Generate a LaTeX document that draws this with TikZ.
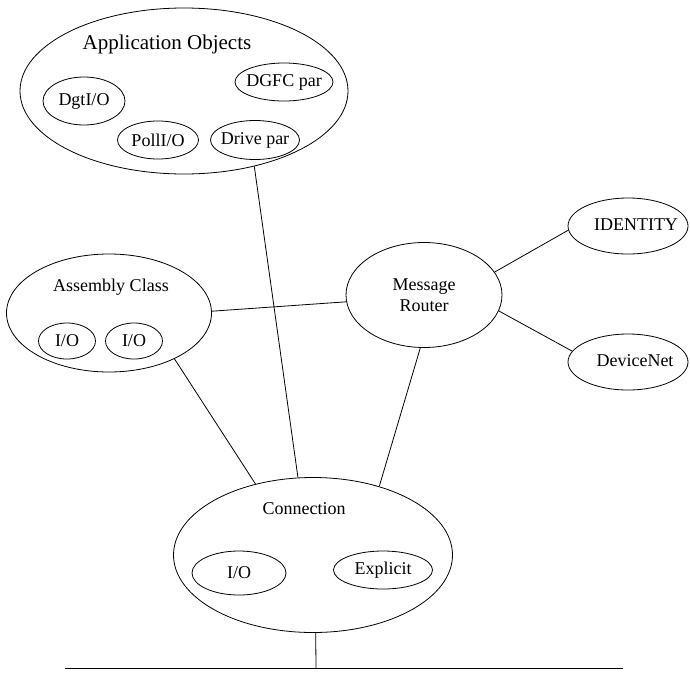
\documentclass[tikz,border=0pt]{standalone}
\usepackage{fontspec}
\setmainfont{Liberation Serif}
\usetikzlibrary{shapes.geometric}
\tikzset{
  ell/.style n args={3}{ellipse, draw, line width=0.8pt, minimum width=#1, minimum height=#2, inner sep=0pt, label={[font=\fontsize{18}{21}\selectfont, align=center]center:#3}},
  cont/.style 2 args={ellipse, draw, line width=0.8pt, minimum width=#1, minimum height=#2, inner sep=0pt},
  title/.style={font=\fontsize{18}{21}\selectfont, inner sep=0pt},
  link/.style={line width=0.8pt}
}
\begin{document}
\begin{tikzpicture}[x=1pt, y=-1pt]
\useasboundingbox (0,0) rectangle (690,672);
% Application Objects
\node[cont={328pt}{166pt}] (app) at (184,91) {};
\node[title, font=\fontsize{21}{24}\selectfont] (apptitle) at (167,44) {Application Objects};
\node[ell={82pt}{48pt}{DgtI/O}] (dgt) at (84,101) {};
\node[ell={81pt}{38pt}{PollI/O}] (poll) at (158,140) {};
\node[ell={98pt}{38pt}{DGFC par}] (dgfc) at (284,82) {};
\node[ell={89pt}{39pt}{Drive par}] (drive) at (255,140) {};
% Assembly Class
\node[cont={205pt}{118pt}] (asm) at (109,313) {};
\node[title] (asmtitle) at (111,287) {Assembly Class};
\node[ell={57pt}{36pt}{I/O}] (asmio1) at (67,341) {};
\node[ell={57pt}{36pt}{I/O}] (asmio2) at (134,341) {};
% Message Router
\node[ell={156pt}{105pt}{Message\\Router}] (mr) at (424,295) {};
\node[cont={120pt}{56pt}] (ident) at (628,226) {};
\node[title] (identtitle) at (636,225) {IDENTITY};
\node[cont={120pt}{56pt}] (dnet) at (628,362) {};
\node[title] (dnettitle) at (635,361) {DeviceNet};
% Connection
\node[cont={279pt}{155pt}] (conn) at (313,555) {};
\node[title] (conntitle) at (304,509) {Connection};
\node[ell={94pt}{44pt}{I/O}] (connio) at (239,573) {};
\node[ell={99pt}{38pt}{Explicit}] (expl) at (383,570) {};
% Bus
\coordinate (busl) at (65,668);
\coordinate (busr) at (623,668);
\coordinate (busj) at (316,668);
% Connectors
\draw[link] (app.-47.7) -- (conn.101.6);
\draw[link] (asm.1.7) -- (mr.185.8);
\draw[link] (asm.-35) -- (conn.129.7);
\draw[link] (mr.-94.4) -- (conn.46.3);
\draw[link] (mr.18) -- (ident.184);
\draw[link] (mr.-12.7) -- (dnet.169.7);
\draw[link] (conn.-88.5) -- (busj);
\draw[link] (busl) -- (busr);
\end{tikzpicture}
\end{document}
